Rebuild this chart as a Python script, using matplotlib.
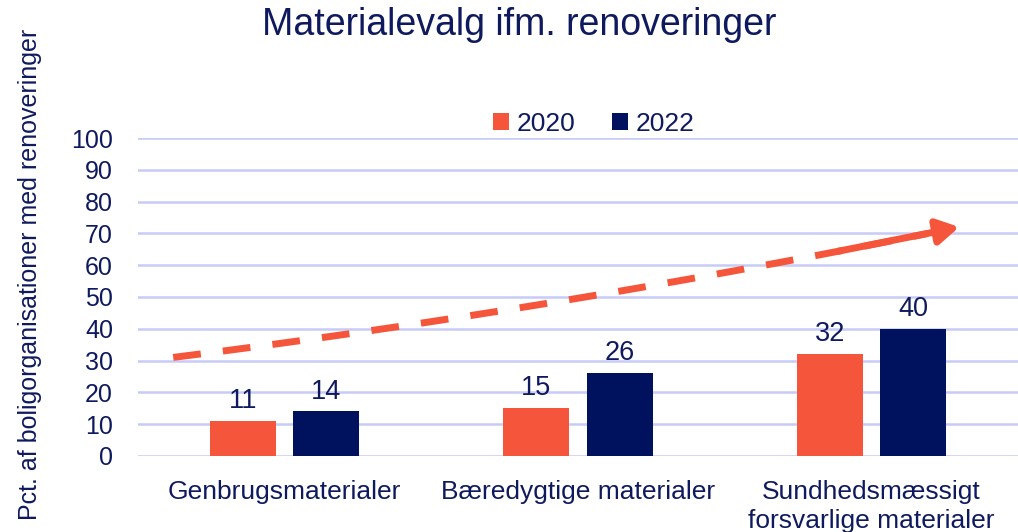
import numpy as np
import matplotlib
import matplotlib.pyplot as plt
matplotlib.use('Agg')

plt.rcParams['font.family'] = ['Liberation Sans', 'DejaVu Sans']

categories = ['Genbrugsmaterialer', 'Bæredygtige materialer', 'Sundhedsmæssigt\nforsvarlige materialer']
years = ['2020', '2022']
vals_2020 = [11, 15, 32]
vals_2022 = [14, 26, 40]
yticks = [0, 10, 20, 30, 40, 50, 60, 70, 80, 90, 100]

# trend arrow (start, control, end) in data units
trend_x = [-0.38, 0.96, 2.30]
trend_y = [31, 46.5, 72]

c20 = '#F5553A'; c22 = '#00115E'; txt = '#0F1A5E'; grid = '#C7CBF7'

fig = plt.figure(figsize=(10.18, 5.32), dpi=100)
ax = fig.add_axes([0.1356, 0.1429, 0.8644, 0.5977])

x = np.arange(len(categories))
w = 0.225
b1 = ax.bar(x - 0.142, vals_2020, w, color=c20, label=years[0], zorder=3)
b2 = ax.bar(x + 0.142, vals_2022, w, color=c22, label=years[1], zorder=3)
for bars in (b1, b2):
    for r in bars:
        ax.annotate(f'{r.get_height():g}', (r.get_x() + r.get_width() / 2, r.get_height()),
                    xytext=(0, 5), textcoords='offset points', ha='center', va='bottom',
                    fontsize=19.5, color=txt)

# curved dashed trend arrow
t = np.linspace(0, 0.96, 60)
bx = (1 - t) ** 2 * trend_x[0] + 2 * (1 - t) * t * trend_x[1] + t ** 2 * trend_x[2]
by = (1 - t) ** 2 * trend_y[0] + 2 * (1 - t) * t * trend_y[1] + t ** 2 * trend_y[2]
ax.plot(bx, by, color=c20, lw=5, linestyle=(0, (4, 3.2)), solid_capstyle='butt',
        dash_capstyle='butt', zorder=4, clip_on=False)
ax.annotate('', xy=(trend_x[2], trend_y[2]), xytext=(bx[-8], by[-8]),
            arrowprops=dict(arrowstyle='-|>,head_width=0.75,head_length=1.3', color=c20,
                            lw=5, shrinkA=0, shrinkB=0), zorder=4)

ax.set_xlim(-0.5, 2.5)
ax.set_ylim(0, 100)
ax.set_yticks(yticks)
ax.set_xticks(x)
ax.set_xticklabels(categories, fontsize=19, color=txt, linespacing=1.3)
ax.tick_params(axis='both', length=0, labelcolor=txt)
ax.tick_params(axis='y', pad=18, labelsize=18)
ax.tick_params(axis='x', pad=17)
ax.grid(axis='y', color=grid, lw=1.8, zorder=0)
ax.set_axisbelow(True)
for s in ax.spines.values():
    s.set_visible(False)

ax.set_ylabel('Pct. af boligorganisationer med renoveringer', fontsize=18, color=txt)
ax.yaxis.set_label_coords(-0.109, 0.57)
fig.text(0.51, 0.953, 'Materialevalg ifm. renoveringer', ha='center', va='center',
         fontsize=27, color=txt)

ax.legend(loc='center', bbox_to_anchor=(0.518, 1.045), ncol=2, frameon=False, fontsize=19,
          handlelength=0.6, handleheight=0.6, handletextpad=0.3, columnspacing=1.4,
          labelcolor=txt)

fig.savefig('out.png', dpi=100)
